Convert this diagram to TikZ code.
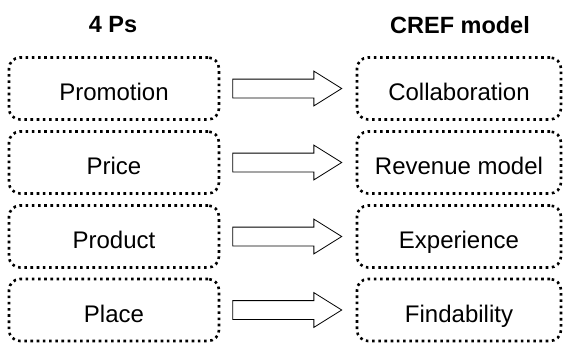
\documentclass[tikz,border=0pt]{standalone}
\usepackage{fontspec}
\setmainfont{Liberation Sans}
\usepackage{tikz}
\usetikzlibrary{shapes.arrows,calc}

\begin{document}
\begin{tikzpicture}[
  x=1pt, y=-1pt,
  heading/.style={font=\fontsize{23.5}{27}\selectfont\bfseries},
  pbox/.style={draw, rounded corners=11pt, line width=2.6pt,
    dash pattern=on 2.6pt off 3.6pt, minimum height=62pt,
    text height=24pt, text depth=0pt,
    font=\fontsize{24}{28}\selectfont},
  maparrow/.style={single arrow, draw, line width=0.8pt, fill=white,
    inner xsep=0pt, inner ysep=9pt, single arrow head extend=8pt,
    single arrow tip angle=64, minimum height=109pt, anchor=tail}
]
  \useasboundingbox (0,0) rectangle (563,343);

  % Column headings
  \node[heading] (h4p) at (113,25) {4 Ps};
  \node[heading] (hcref) at (460,25) {CREF model};

  % Mix elements and their counterparts
  \foreach \i/\y/\l/\r in {1/88.5/Promotion/Collaboration,
      2/162.5/Price/Revenue model, 3/236.5/Product/Experience,
      4/310/Place/Findability} {
    \node[pbox, minimum width=210pt] (p\i) at (114,\y) {\l};
    \node[pbox, minimum width=204pt] (c\i) at (459,\y) {\r};
    \node[maparrow] (a\i) at ($(p\i.east)+(12,0)$) {};
  }
\end{tikzpicture}
\end{document}
